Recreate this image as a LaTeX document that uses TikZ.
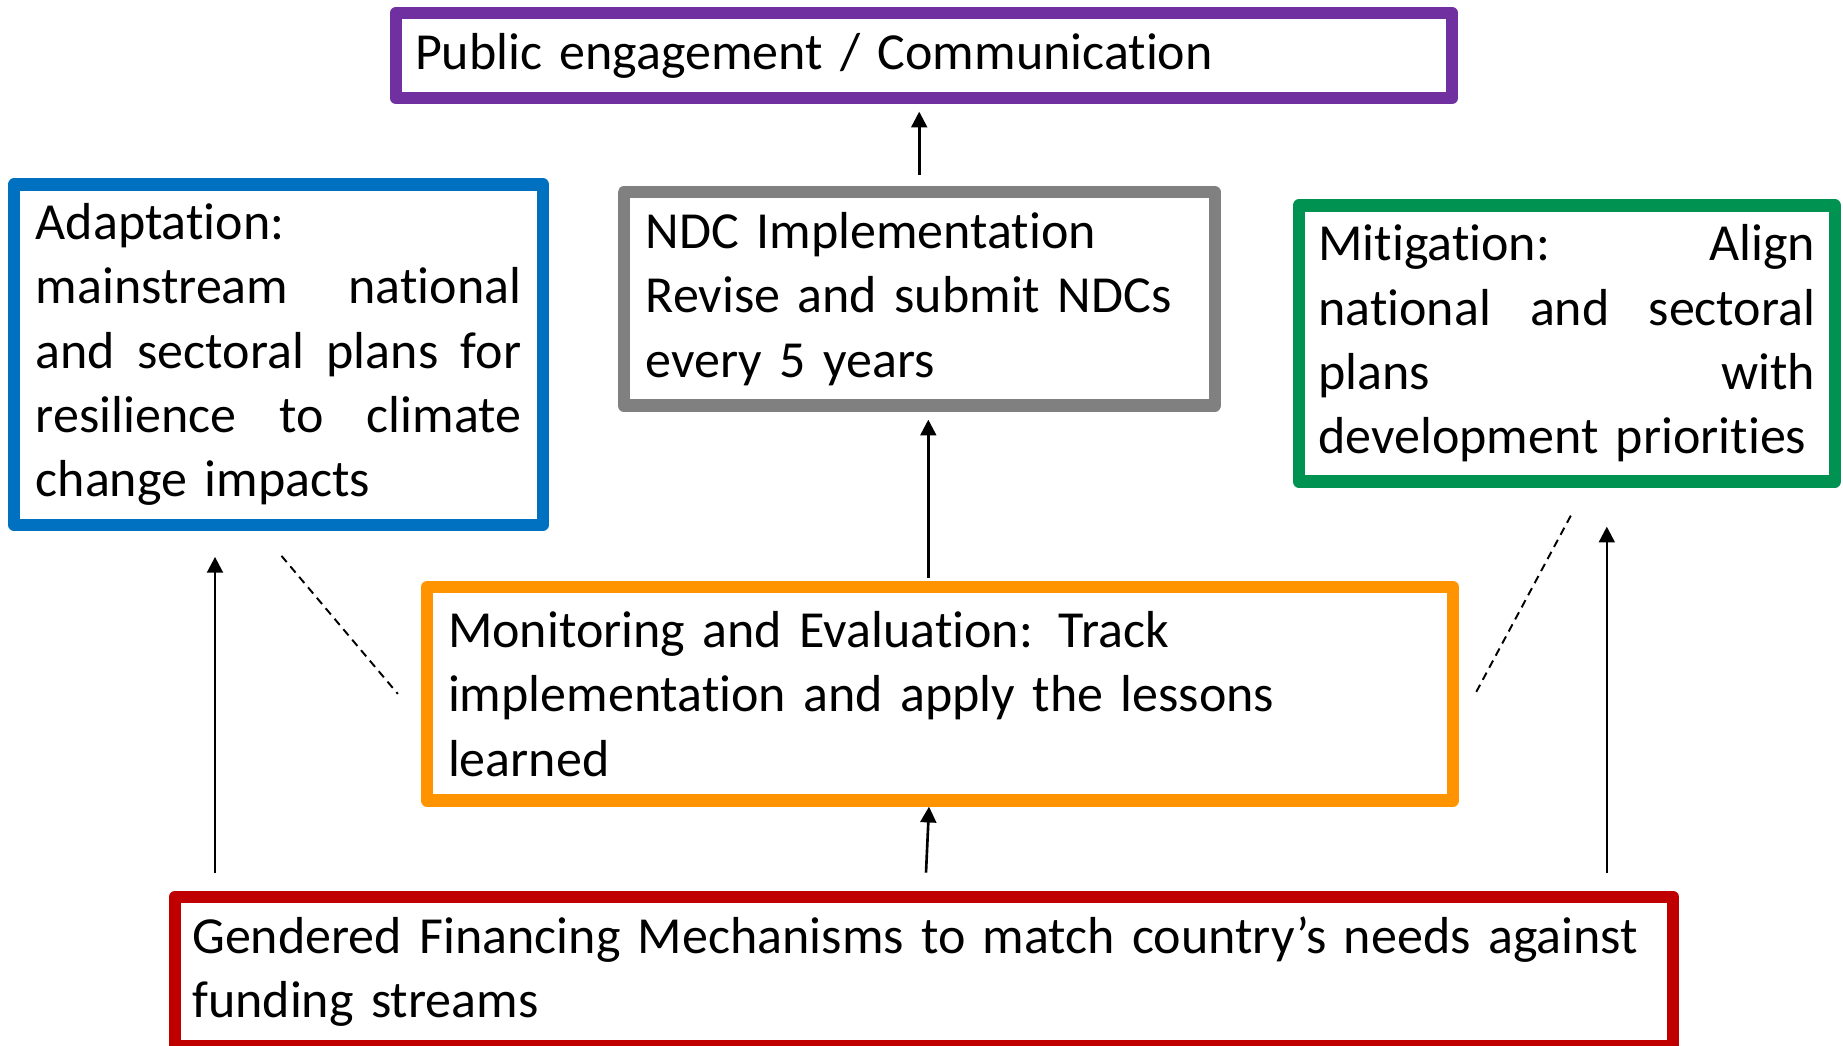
\documentclass[tikz,border=0pt]{standalone}
\usepackage{fontspec}
\setmainfont[Ligatures=NoCommon]{Carlito}
\usepackage{tikz}
\usetikzlibrary{arrows.meta}
\definecolor{engpurple}{RGB}{112,48,160}
\definecolor{adaptblue}{RGB}{0,112,192}
\definecolor{ndcgrey}{RGB}{128,128,128}
\definecolor{mitiggreen}{RGB}{0,146,80}
\definecolor{monorange}{RGB}{255,148,0}
\definecolor{finred}{RGB}{192,0,0}
\newcommand{\boxfont}{\fontsize{14.8pt}{18.3pt}\selectfont}
\tikzstyle{box}=[draw, line width=3.5pt, line join=round, align=left, inner ysep=0pt, font=\boxfont]
\tikzstyle{edge}=[draw, line width=0.75pt, -{Triangle[length=4.5pt,width=4.5pt]}]
\tikzstyle{dashededge}=[draw, line width=0.55pt, dash pattern=on 2.3pt off 1.6pt]

\begin{document}
\begin{tikzpicture}

\useasboundingbox (0,0) rectangle (18.43,-10.46);

% boxes
\node[box, draw=engpurple, text width=10.18cm, inner xsep=0.19cm, minimum height=0.85cm] (public) at (9.24,-0.555)
    {Public engagement / Communication};
\node[box, draw=adaptblue, text width=4.856cm, inner xsep=0.215cm, minimum height=3.403cm] (adapt) at (2.785,-3.546)
    {Adaptation:\\ mainstream\hfill national\\ and\hfill sectoral\hfill plans\hfill for\\ resilience\hfill to\hfill climate\\ change impacts};
\node[box, draw=ndcgrey, text width=5.47cm, inner xsep=0.22cm, minimum height=2.132cm] (ndc) at (9.192,-2.989)
    {NDC Implementation\\ Revise and submit NDCs\\ every 5 years};
\node[box, draw=mitiggreen, text width=4.97cm, inner xsep=0.195cm, minimum height=2.76cm] (mitig) at (15.668,-3.435)
    {Mitigation:\hfill Align\\ national\hfill and\hfill sectoral\\ plans\hfill with\\ development priorities};
\node[box, draw=monorange, text width=9.84cm, inner xsep=0.21cm, minimum height=2.132cm] (monitor) at (9.40,-6.939)
    {Monitoring and Evaluation: Track\\ implementation and apply the lessons\\ learned};
% runs off the bottom edge a little
\node[box, draw=finred, text width=14.635cm, inner xsep=0.17cm, minimum height=1.495cm] (fin) at (9.24,-9.715)
    {Gendered Financing Mechanisms to match country’s needs against\\ funding streams};

% arrows between boxes
\draw[edge, shorten <=0.11cm, shorten >=0.075cm] (ndc.north) -- (ndc.north |- public.south);
\draw[edge, shorten <=0.03cm, shorten >=0.08cm] ([xshift=-0.117cm]monitor.north) -- ([xshift=-0.117cm]monitor.north |- ndc.south);
\draw[edge] ([xshift=0.02cm,yshift=0.18cm]fin.north) -- ([xshift=-0.11cm]monitor.south);
\draw[edge, shorten <=0.175cm, shorten >=0.26cm] ([xshift=-0.635cm]adapt.south |- fin.north) -- ([xshift=-0.635cm]adapt.south);
\draw[edge, shorten <=0.175cm, shorten >=0.39cm] ([xshift=0.4cm]mitig.south |- fin.north) -- ([xshift=0.4cm]mitig.south);

% dashed links
\draw[dashededge] ([xshift=0.03cm,yshift=-0.25cm]adapt.south) -- ([xshift=-0.23cm]monitor.west);
\draw[dashededge] ([xshift=0.04cm,yshift=-0.28cm]mitig.south) -- ([xshift=0.16cm]monitor.east);

\end{tikzpicture}
\end{document}
